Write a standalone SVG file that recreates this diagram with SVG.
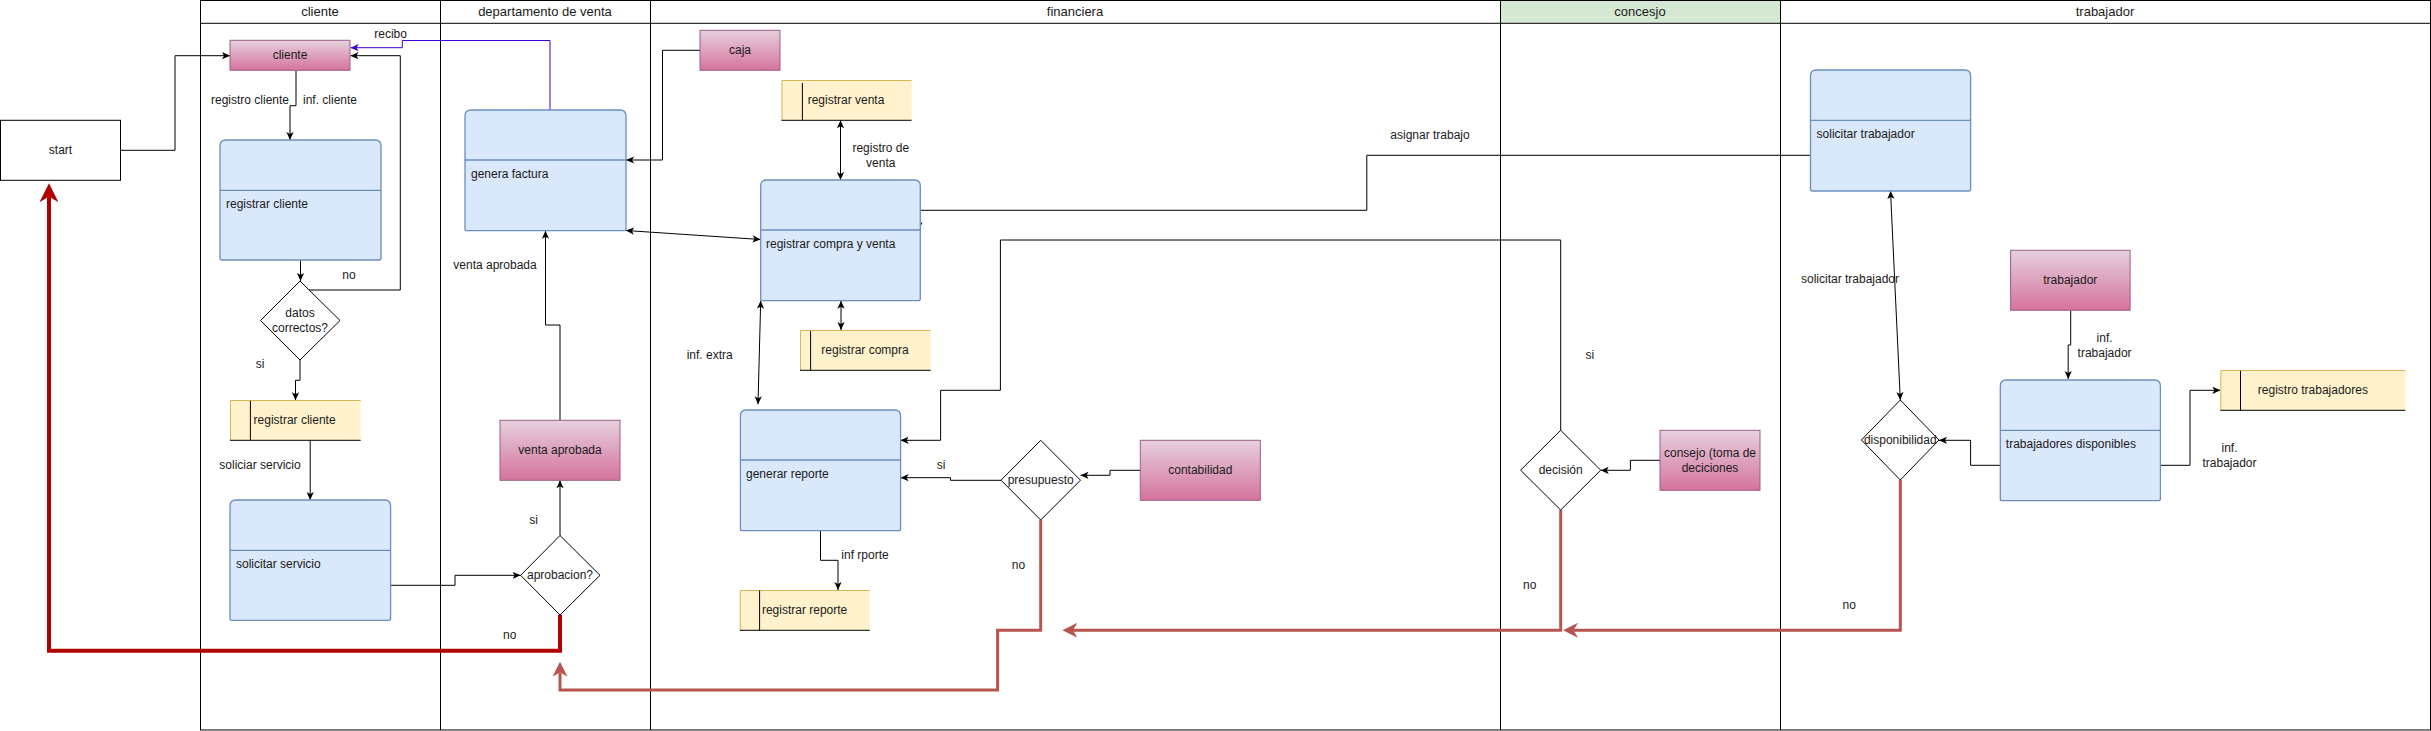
<svg xmlns="http://www.w3.org/2000/svg" width="2431" height="731" viewBox="0 0 2431 731">
<style>
.t{font-family:"Liberation Sans",Arial,Helvetica,sans-serif;font-size:12px;fill:#1a1a1a;dominant-baseline:central}
.c{text-anchor:middle}
.h{font-size:13px}
.ln{fill:none;stroke:#000;stroke-width:1}
.e{fill:none;stroke:#000;stroke-width:1}
.pink{fill:url(#pg);stroke:#996185;stroke-width:1}
.blue{fill:#dae8fc;stroke:#6c8ebf;stroke-width:1.3}
.ylw{fill:#fff2cc;stroke:none}
.ye{fill:none;stroke:#d6b656;stroke-width:1}
.yk{fill:none;stroke:#000;stroke-width:1}
.dia{fill:#fff;stroke:#000;stroke-width:1}
.r1{fill:none;stroke:#b20000;stroke-width:4}
.r2{fill:none;stroke:#b85450;stroke-width:3}
</style>
<defs>
<linearGradient id="pg" x1="0" y1="0" x2="0" y2="1">
<stop offset="0" stop-color="#e6d0de"/>
<stop offset="1" stop-color="#d5739d"/>
</linearGradient>
<marker id="a" viewBox="0 0 10 10" refX="10" refY="5" markerWidth="8" markerHeight="8" markerUnits="userSpaceOnUse" orient="auto-start-reverse"><path d="M0,0.5 L10,5 L0,9.5 L2.5,5 z" fill="#000"/></marker>
<marker id="ab" viewBox="0 0 10 10" refX="10" refY="5" markerWidth="8" markerHeight="8" markerUnits="userSpaceOnUse" orient="auto"><path d="M0,0.5 L10,5 L0,9.5 L2.5,5 z" fill="#4000d0"/></marker>
<marker id="ar1" viewBox="0 0 10 10" refX="3" refY="5" markerWidth="19" markerHeight="19" markerUnits="userSpaceOnUse" orient="auto"><path d="M0,0 L10,5 L0,10 L3,5 z" fill="#b20000"/></marker>
<marker id="ar2" viewBox="0 0 10 10" refX="3" refY="5" markerWidth="15" markerHeight="15" markerUnits="userSpaceOnUse" orient="auto"><path d="M0,0 L10,5 L0,10 L3,5 z" fill="#b85450"/></marker>
</defs>

<g id="pool">
<rect x="1500.6" y="0.5" width="279.6" height="22.8" fill="#d5e8d4"/>
<rect x="200.5" y="0.5" width="2230" height="729.5" fill="none" stroke="#000"/>
<path class="ln" d="M200.5,23.3 H2430.5 M440.5,0.5 V730 M650.5,0.5 V730 M1500.5,0.5 V730 M1780.5,0.5 V730"/>
<text class="t c h" x="320" y="11.7">cliente</text>
<text class="t c h" x="545" y="11.7">departamento de venta</text>
<text class="t c h" x="1075" y="11.7">financiera</text>
<text class="t c h" x="1640" y="11.7">concesjo</text>
<text class="t c h" x="2105" y="11.7">trabajador</text>
</g>

<g id="connectors">
<path class="e" d="M120.5,150.3 H175 V55.7 H230" marker-end="url(#a)"/>
<path class="e" d="M296,70.3 V105.7 H290 V140" marker-end="url(#a)"/>
<path class="e" d="M300.5,260 V281" marker-end="url(#a)"/>
<path class="e" d="M309,290 H400.3 V55.7 H350.5" marker-end="url(#a)"/>
<path class="e" d="M300,360 V380.3 H295.5 V400.3" marker-end="url(#a)"/>
<path class="e" d="M310.2,440.3 V500" marker-end="url(#a)"/>
<path class="e" d="M390.6,585.3 H455 V575.3 H520.6" marker-end="url(#a)"/>
<path class="e" d="M560,535.7 V480.3" marker-end="url(#a)"/>
<path class="e" d="M560,420.3 V325 H545.5 V230.7" marker-end="url(#a)"/>
<path fill="none" stroke="#4000d0" stroke-width="1" d="M550,110 V40.5 H402.3 V47.7 H350.6" marker-end="url(#ab)"/>
<path class="e" d="M700,50.3 H662.5 V160 H626" marker-end="url(#a)"/>
<path class="e" d="M626,230.5 L760.5,239.5" marker-start="url(#a)" marker-end="url(#a)"/>
<path class="e" d="M840.5,120.3 V180" marker-start="url(#a)" marker-end="url(#a)"/>
<path class="e" d="M841,300.7 V330" marker-start="url(#a)" marker-end="url(#a)"/>
<path class="e" d="M1810.5,155.3 H1366.8 V210.3 H919 V230" marker-end="url(#a)"/>
<path class="e" d="M760.7,300.7 L758,404.3" marker-start="url(#a)" marker-end="url(#a)"/>
<path class="e" d="M1560.7,430.3 V240 H1000.4 V390.3 H940.6 V440.3 H900.6" marker-end="url(#a)"/>
<path class="e" d="M1001,480.3 H950.5 V477.7 H900.6" marker-end="url(#a)"/>
<path class="e" d="M1140.3,470.3 H1110 V475.3 H1080.5" marker-end="url(#a)"/>
<path class="e" d="M820.5,530.7 V560.3 H838 V590" marker-end="url(#a)"/>
<path class="e" d="M1660,460.3 H1630.4 V470.3 H1600.7" marker-end="url(#a)"/>
<path class="e" d="M1890.5,191 L1900.3,400" marker-start="url(#a)" marker-end="url(#a)"/>
<path class="e" d="M2070.7,310.3 V345 H2068.2 V379" marker-end="url(#a)"/>
<path class="e" d="M2000.3,465.3 H1970.6 V440.3 H1939" marker-end="url(#a)"/>
<path class="e" d="M2160.4,465.3 H2190 V390.3 H2220.4" marker-end="url(#a)"/>
<path class="r1" d="M560,615 V650.7 H49 V196.6" marker-end="url(#ar1)"/>
<path class="r2" d="M1040.7,520 V630.3 H997.6 V690 H560 V672.2" marker-end="url(#ar2)"/>
<path class="r2" d="M1560.7,510 V630.3 H1072.9" marker-end="url(#ar2)"/>
<path class="r2" d="M1900.3,480 V630.3 H1573.5" marker-end="url(#ar2)"/>
<text class="t c" x="390.6" y="34.3">recibo</text>
<text class="t c" x="349" y="275">no</text>
<text class="t c" x="250" y="99.7">registro cliente</text>
<text class="t c" x="330" y="99.7">inf. cliente</text>
<text class="t c" x="260" y="364.3">si</text>
<text class="t c" x="260" y="464.7">soliciar servicio</text>
<text class="t c" x="533.7" y="520">si</text>
<text class="t c" x="509.7" y="635">no</text>
<text class="t c" x="495" y="265">venta aprobada</text>
<text class="t c" x="880.8" y="148">registro de</text>
<text class="t c" x="880.8" y="163">venta</text>
<text class="t c" x="1430" y="134.7">asignar trabajo</text>
<text class="t c" x="709.7" y="354.7">inf. extra</text>
<text class="t c" x="941" y="465">si</text>
<text class="t c" x="1018.5" y="565">no</text>
<text class="t c" x="865" y="554.7">inf rporte</text>
<text class="t c" x="1589.8" y="354.7">si</text>
<text class="t c" x="1529.7" y="585">no</text>
<text class="t c" x="1850" y="279.3">solicitar trabajador</text>
<text class="t c" x="2104.6" y="337.7">inf.</text>
<text class="t c" x="2104.6" y="352.7">trabajador</text>
<text class="t c" x="2229.5" y="448">inf.</text>
<text class="t c" x="2229.5" y="463">trabajador</text>
<text class="t c" x="1849.3" y="605">no</text>
</g>

<g id="start">
<rect x="0.5" y="120.3" width="120" height="60" fill="#fff" stroke="#000"/>
<text class="t c" x="60.5" y="150.3">start</text>
</g>
<g id="cliente">
<rect class="pink" x="230" y="40.3" width="120" height="30"/>
<text class="t c" x="290" y="55.3">cliente</text>
</g>
<g id="registrar-cliente">
<path class="blue" d="M220,258 V146 Q220,140 226,140 H375 Q381,140 381,146 V258 Q381,260 379,260 H222 Q220,260 220,258 Z"/>
<path class="blue" d="M220,190.3 H381"/>
<text class="t" x="226" y="203.7">registrar cliente</text>
</g>
<g id="datos-correctos">
<path class="dia" d="M300,281 L340,320.5 L300,360 L260.5,320.5 Z"/>
<text class="t c" x="300" y="312.7">datos</text>
<text class="t c" x="300" y="327.7">correctos?</text>
</g>
<g id="registrar-cliente-store">
<rect class="ylw" x="230" y="400.3" width="130.7" height="40"/>
<path class="ye" d="M360.7,400.5 H230.5 V440"/>
<path class="yk" d="M230,440.3 H360.7 M250.4,400.8 V440.3"/>
<text class="t c" x="294.6" y="420.3">registrar cliente</text>
</g>
<g id="solicitar-servicio">
<path class="blue" d="M230,618.3 V506 Q230,500 236,500 H384.6 Q390.6,500 390.6,506 V618.3 Q390.6,620.3 388.6,620.3 H232 Q230,620.3 230,618.3 Z"/>
<path class="blue" d="M230,550.3 H390.6"/>
<text class="t" x="236" y="563.7">solicitar servicio</text>
</g>
<g id="aprobacion">
<path class="dia" d="M560,535.5 L600,575.3 L560,615 L520.6,575.3 Z"/>
<text class="t c" x="560" y="575.3">aprobacion?</text>
</g>
<g id="venta-aprobada">
<rect class="pink" x="500" y="420.3" width="120" height="60"/>
<text class="t c" x="560" y="450.3">venta aprobada</text>
</g>
<g id="genera-factura">
<path class="blue" d="M465,228.7 V116 Q465,110 471,110 H620 Q626,110 626,116 V228.7 Q626,230.7 624,230.7 H467 Q465,230.7 465,228.7 Z"/>
<path class="blue" d="M465,160 H626"/>
<text class="t" x="471" y="173.7">genera factura</text>
</g>
<g id="caja">
<rect class="pink" x="700" y="30.3" width="80" height="40"/>
<text class="t c" x="740" y="50.3">caja</text>
</g>
<g id="registrar-venta">
<rect class="ylw" x="781.5" y="80.3" width="130" height="40"/>
<path class="ye" d="M911.5,80.5 H782 V120"/>
<path class="yk" d="M781.5,120.3 H911.5 M802.4,83 V120.3"/>
<text class="t c" x="846" y="100.3">registrar venta</text>
</g>
<g id="registrar-compra-y-venta">
<path class="blue" d="M760.7,298.7 V186 Q760.7,180 766.7,180 H914.3 Q920.3,180 920.3,186 V298.7 Q920.3,300.7 918.3,300.7 H762.7 Q760.7,300.7 760.7,298.7 Z"/>
<path class="blue" d="M760.7,230 H920.3"/>
<text class="t" x="766" y="244">registrar compra y venta</text>
</g>
<g id="registrar-compra">
<rect class="ylw" x="800" y="330" width="130.7" height="40.3"/>
<path class="ye" d="M930.7,330.5 H800.5 V370"/>
<path class="yk" d="M800,370.3 H930.7 M810.6,331 V370.3"/>
<text class="t c" x="865" y="350.3">registrar compra</text>
</g>
<g id="generar-reporte">
<path class="blue" d="M740.4,528.7 V416 Q740.4,410 746.4,410 H894.6 Q900.6,410 900.6,416 V528.7 Q900.6,530.7 898.6,530.7 H742.4 Q740.4,530.7 740.4,528.7 Z"/>
<path class="blue" d="M740.4,460 H900.6"/>
<text class="t" x="746" y="474">generar reporte</text>
</g>
<g id="registrar-reporte">
<rect class="ylw" x="739.8" y="590" width="130" height="40.3"/>
<path class="ye" d="M869.8,590.5 H740.3 V630"/>
<path class="yk" d="M739.8,630.3 H869.8 M759.6,590.5 V630.3"/>
<text class="t c" x="804.6" y="610.2">registrar reporte</text>
</g>
<g id="presupuesto">
<path class="dia" d="M1040.7,440.3 L1080.5,480.2 L1040.7,520 L1001,480.2 Z"/>
<text class="t c" x="1040.7" y="480.2">presupuesto</text>
</g>
<g id="contabilidad">
<rect class="pink" x="1140.3" y="440.3" width="120" height="60"/>
<text class="t c" x="1200.3" y="470.3">contabilidad</text>
</g>
<g id="decision">
<path class="dia" d="M1560.7,430.3 L1600.7,470.2 L1560.7,510 L1520.6,470.2 Z"/>
<text class="t c" x="1560.7" y="470.2">decisión</text>
</g>
<g id="consejo">
<rect class="pink" x="1660" y="430.3" width="100" height="60"/>
<text class="t c" x="1710" y="453.3">consejo (toma de</text>
<text class="t c" x="1710" y="467.7">deciciones</text>
</g>
<g id="solicitar-trabajador">
<path class="blue" d="M1810.5,189 V76 Q1810.5,70 1816.5,70 H1964.6 Q1970.6,70 1970.6,76 V189 Q1970.6,191 1968.6,191 H1812.5 Q1810.5,191 1810.5,189 Z"/>
<path class="blue" d="M1810.5,120.3 H1970.6"/>
<text class="t" x="1816.6" y="134">solicitar trabajador</text>
</g>
<g id="trabajador">
<rect class="pink" x="2010.6" y="250.3" width="119.5" height="60"/>
<text class="t c" x="2070.3" y="280.3">trabajador</text>
</g>
<g id="disponibilidad">
<path class="dia" d="M1900.3,400 L1939,440 L1900.3,480 L1861.4,440 Z"/>
<text class="t c" x="1900.3" y="440">disponibilidad</text>
</g>
<g id="trabajadores-disponibles">
<path class="blue" d="M2000.3,498.7 V386 Q2000.3,380 2006.3,380 H2154.4 Q2160.4,380 2160.4,386 V498.7 Q2160.4,500.7 2158.4,500.7 H2002.3 Q2000.3,500.7 2000.3,498.7 Z"/>
<path class="blue" d="M2000.3,430.3 H2160.4"/>
<text class="t" x="2005.8" y="444">trabajadores disponibles</text>
</g>
<g id="registro-trabajadores">
<rect class="ylw" x="2220.4" y="370.3" width="185" height="40"/>
<path class="ye" d="M2405.4,370.5 H2220.9 V410"/>
<path class="yk" d="M2220.4,410.3 H2405.4 M2240.5,370.8 V410.3"/>
<text class="t c" x="2312.9" y="390.3">registro trabajadores</text>
</g>
</svg>
